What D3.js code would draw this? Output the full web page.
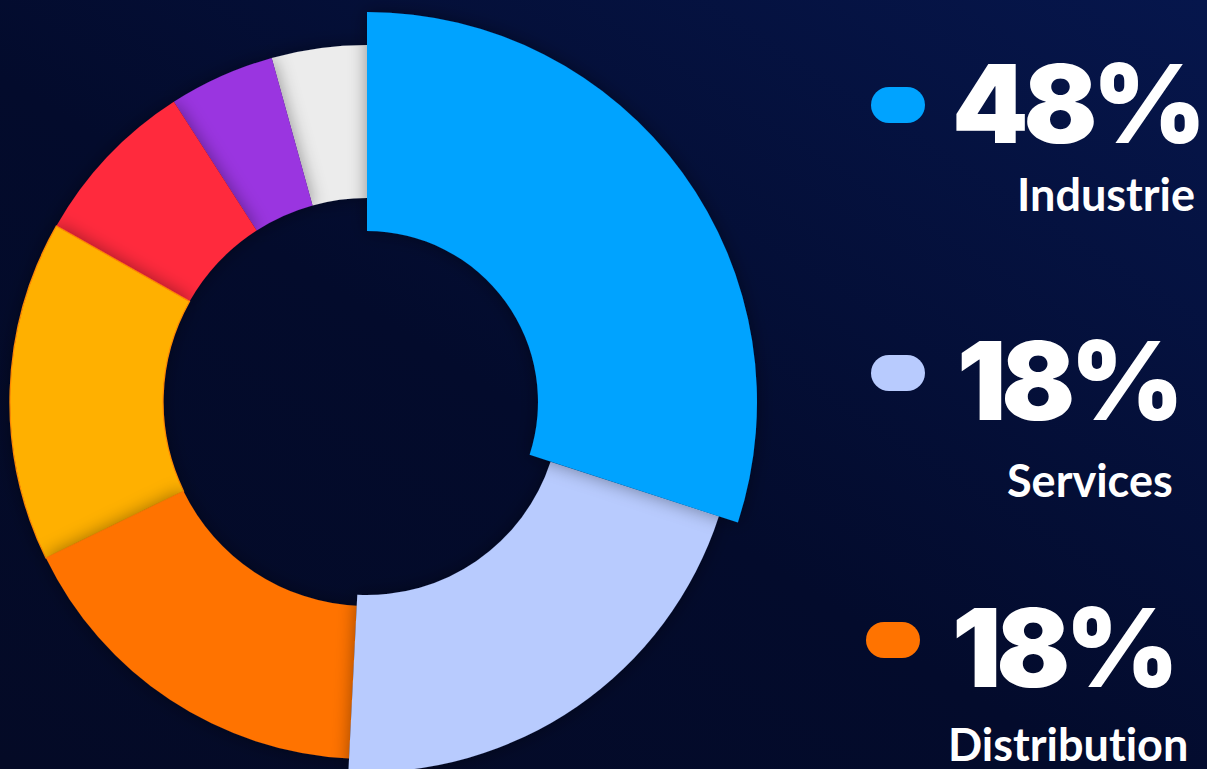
<!DOCTYPE html>
<html>
<head>
<meta charset="utf-8">
<script src="https://cdn.jsdelivr.net/npm/d3@7"></script>
<style>
  html, body { margin: 0; padding: 0; background: #040b2a; overflow: hidden; }
  svg { display: block; }
  text { font-variant-ligatures: none; }
</style>
</head>
<body>
<div id="graph"></div>
<script>
// slice data, clockwise from 12 o'clock
var categories = ["Industrie", "Services", "Distribution", "Secteur 4", "Secteur 5", "Secteur 6", "Secteur 7"];
var shares = [30, 20.8, 17, 15.4, 7.7, 4.8, 4.3];

// legend on the right
var legendValues = ["48%", "18%", "18%"];
var legendLabels = ["Industrie", "Services", "Distribution"];

var colors = ["#00a3ff", "#b8cbfe", "#ff7300", "#ffb000", "#ff2a3c", "#9a36e0", "#ececec"];
var innerRadii = [171, 193, 204, 204, 204, 204, 204];
var outerRadii = [390, 370, 357, 357, 357, 357, 357];

var width = 1207, height = 769;
var cx = 367, cy = 402;

var svg = d3.select("#graph").append("svg")
  .attr("width", width)
  .attr("height", height);

var defs = svg.append("defs");

var bg = defs.append("linearGradient")
  .attr("id", "bg")
  .attr("x1", "0").attr("y1", "1")
  .attr("x2", "1").attr("y2", "0");
bg.append("stop").attr("offset", "0").attr("stop-color", "#040a26");
bg.append("stop").attr("offset", "0.45").attr("stop-color", "#030b2c");
bg.append("stop").attr("offset", "1").attr("stop-color", "#06164c");

var shadow = defs.append("filter")
  .attr("id", "shadow")
  .attr("x", "-20%").attr("y", "-20%")
  .attr("width", "140%").attr("height", "140%");
shadow.append("feDropShadow")
  .attr("dx", 0).attr("dy", 0)
  .attr("stdDeviation", 9)
  .attr("flood-color", "#000")
  .attr("flood-opacity", 0.4);

svg.append("rect")
  .attr("width", width)
  .attr("height", height)
  .attr("fill", "url(#bg)");

var pie = d3.pie()
  .sort(null)
  .value(function(d) { return d; });

var arcs = pie(shares);

var arc = d3.arc()
  .innerRadius(function(d) { return innerRadii[d.index]; })
  .outerRadius(function(d) { return outerRadii[d.index]; });

var chartLayer = svg.append("g")
  .attr("class", "chartLayer")
  .attr("transform", "translate(" + [cx, cy] + ")");

// draw last slice first so each slice shades the one before it
chartLayer.selectAll("path")
  .data(arcs.slice().reverse())
  .enter().append("path")
  .attr("d", arc)
  .attr("fill", function(d) { return colors[d.index]; })
  .attr("stroke", function(d) { return d.index === 3 ? "#ff8a00" : "none"; })
  .attr("stroke-width", 1.2)
  .attr("filter", "url(#shadow)");

// legend
var legendX = [871, 871, 866];
var legendY = [87, 355, 622];
var valueX = [952, 957, 952];
var valueBase = [143, 420, 687];
var labelX = [1017, 1007, 948];
var labelBase = [211, 497, 761];

var legend = svg.append("g").attr("class", "legend");

var entry = legend.selectAll("g")
  .data(legendLabels)
  .enter().append("g")
  .attr("class", "entry");

entry.append("rect")
  .attr("x", function(d, i) { return legendX[i]; })
  .attr("y", function(d, i) { return legendY[i]; })
  .attr("width", 54)
  .attr("height", 36)
  .attr("rx", 18)
  .attr("fill", function(d, i) { return colors[i]; });

entry.append("text")
  .attr("x", function(d, i) { return valueX[i]; })
  .attr("y", function(d, i) { return valueBase[i]; })
  .attr("font-family", "Inter, Lato, sans-serif")
  .attr("font-weight", 900)
  .attr("font-size", 109)
  .attr("letter-spacing", -5)
  .attr("fill", "#ffffff")
  .text(function(d, i) { return legendValues[i]; });

entry.append("text")
  .attr("x", function(d, i) { return labelX[i]; })
  .attr("y", function(d, i) { return labelBase[i]; })
  .attr("font-family", "Lato, 'Open Sans', sans-serif")
  .attr("font-weight", 700)
  .attr("font-size", 45)
  .attr("fill", "#ffffff")
  .text(function(d) { return d; });
</script>
</body>
</html>
